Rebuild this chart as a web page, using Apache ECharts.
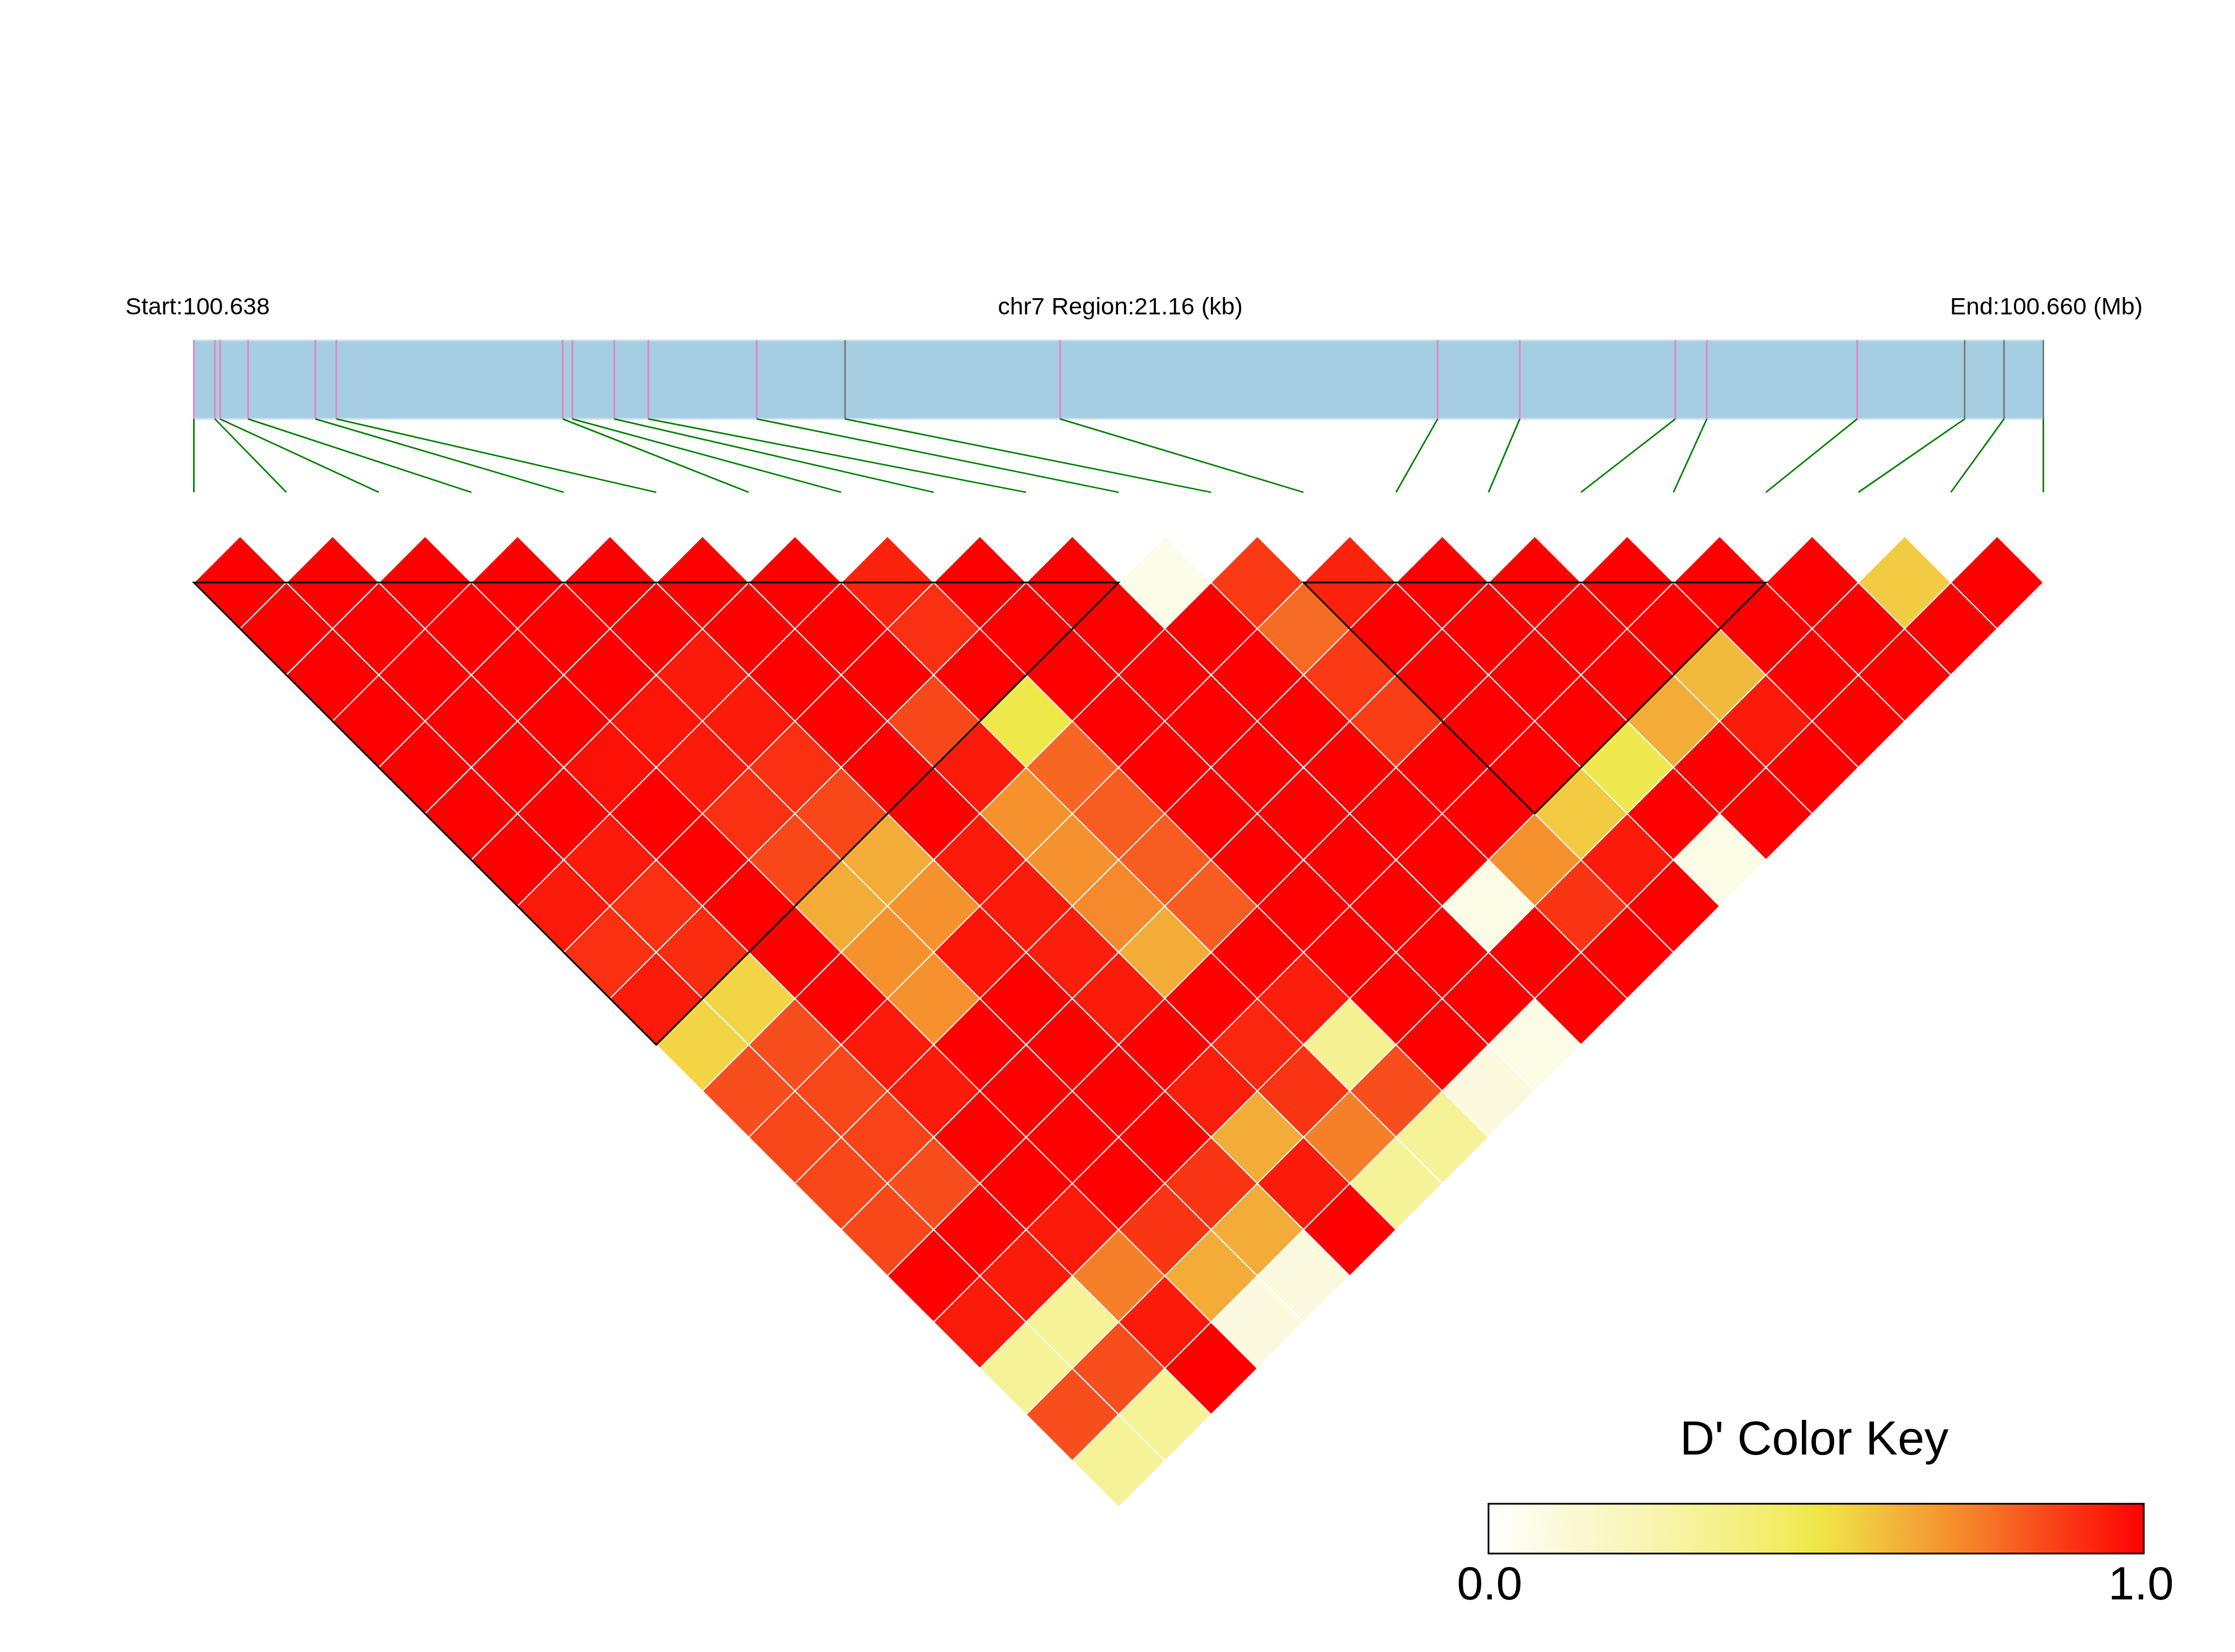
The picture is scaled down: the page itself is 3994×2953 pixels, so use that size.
<!DOCTYPE html>
<html>
<head>
<meta charset="utf-8">
<script src="https://cdn.jsdelivr.net/npm/echarts/dist/echarts.min.js"></script>
<style>
  html, body { margin: 0; padding: 0; background: #fff; }
  #chart { width: 3994px; height: 2953px; }
</style>
</head>
<body>
<div id="chart"></div>
<script>
// ---------------- data ----------------
const chrom = 'chr7';
const startMb = '100.638';
const endMb = '100.660';
const regionKb = 21.16;

// SNP positions, kb from region start
const snpKb = [0, 0.24, 0.30, 0.62, 1.39, 1.63, 4.22, 4.33, 4.81, 5.20, 6.44,
               7.45, 9.91, 14.23, 15.17, 16.95, 17.31, 19.03, 20.26, 20.71, 21.16];
// marker class of each SNP on the genomic track (a = pink tick, b = grey tick)
const snpClass = ['a','a','a','a','a','a','a','a','a','a','a',
                  'b','a','a','a','a','a','a','b','b','b'];

// D' values: row i holds pairs (i, j) for j = i+1 .. 20
const dprime = [
  [1,1,1,1,1,1,1,0.95,0.9,0.95,0.55,0.84,0.85,0.85,0.85,1,0.95,0.32,0.84,0.32],
  [1,1,1,1,1,1,0.95,0.9,0.91,0.55,0.84,0.85,0.86,0.84,1,0.95,0.32,0.84,0.32],
  [1,1,1,1,0.97,1,1,1,1,1,0.95,0.95,1,1,0.95,0.74,0.95,1],
  [1,1,1,0.96,0.95,0.9,0.85,0.64,0.7,0.7,1,1,1,1,0.89,0.64,0.1],
  [1,1,0.95,0.95,0.9,0.85,0.64,0.7,0.96,1,1,1,1,0.89,0.64,0.1],
  [1,1,1,1,1,1,0.95,0.95,0.94,0.95,1,0.94,0.64,0.95,1],
  [1,1,1,0.85,0.95,0.7,0.7,0.72,0.64,1,0.92,0.89,0.74,0.32],
  [0.93,0.9,1,0.5,0.79,0.81,0.81,0.81,1,0.94,0.33,0.84,0.32],
  [1,1,1,1,1,1,1,1,1,1,1,0.1],
  [1,1,1,1,1,1,1,1,1,1,0.08],
  [0.07,1,1,1,1,1,1,0.08,1,1],
  [0.88,0.78,0.88,0.87,1,1,0.7,0.89,1],
  [0.93,1,1,1,1,0.57,0.95,1],
  [1,1,1,1,0.49,1,0.08],
  [1,1,1,0.64,1,1],
  [1,1,0.61,0.95,1],
  [1,1,1,1],
  [1,1,1],
  [0.57,1],
  [1]
];

// LD blocks (first SNP, last SNP)
const blocks = [[0, 10], [12, 17]];

// colour key
const keyTitle = "D' Color Key";
const keyTicks = ['0.0', '1.0'];
const keyColors = ['#FFFFFF','#FDFDEF','#FBFADE','#FAF8CF','#F9F6C0','#F8F4B0','#F7F3A0',
  '#F5F18C','#F4EF78','#F1EC62','#EEE84A','#F2D444','#F2BE3E','#F3A837','#F5922E',
  '#F67C28','#F76222','#F8481A','#FA3012','#FC1A0A','#FF0000'];

// ---------------- build ----------------
const nSnp = snpKb.length;
const cells = [];
dprime.forEach((row, i) => row.forEach((v, k) => cells.push([i, i + k + 1, v])));

const FONT = '"Liberation Sans", Arial, Helvetica, sans-serif';
const barFrac = 0.518;  // share of the track grid occupied by the blue bar

const chart = echarts.init(document.getElementById('chart'), null, { renderer: 'canvas' });

const option = {
  animation: false,
  backgroundColor: '#ffffff',
  grid: [
    { left: 346.5, top: 958.6, width: 3305, height: 1735.2, show: false },
    { left: 346.5, top: 608, width: 3305, height: 272, show: false }
  ],
  xAxis: [
    { type: 'value', gridIndex: 0, min: 0, max: nSnp - 1, show: false },
    { type: 'value', gridIndex: 1, min: 0, max: regionKb, show: false }
  ],
  yAxis: [
    { type: 'value', gridIndex: 0, min: -0.5, max: (nSnp - 1) / 2, inverse: true, show: false },
    { type: 'value', gridIndex: 1, min: 0, max: 1, inverse: true, show: false }
  ],
  visualMap: {
    type: 'continuous', show: false, min: 0, max: 1, dimension: 2, seriesIndex: 0,
    inRange: { color: keyColors }
  },
  series: [
    {
      type: 'custom', name: 'cells', xAxisIndex: 0, yAxisIndex: 0,
      data: cells,
      renderItem: function (params, api) {
        const i = api.value(0), j = api.value(1);
        const cx = (i + j) / 2, cy = (j - i - 1) / 2;
        const pts = [[cx - 0.5, cy], [cx, cy - 0.5], [cx + 0.5, cy], [cx, cy + 0.5]].map(p => api.coord(p));
        return { type: 'polygon', shape: { points: pts },
                 style: { fill: api.visual('color'), stroke: '#ffffff', lineWidth: 2 } };
      }
    },
    {
      type: 'custom', name: 'blocks', xAxisIndex: 0, yAxisIndex: 0,
      data: blocks, z: 5,
      renderItem: function (params, api) {
        const a = api.value(0), b = api.value(1);
        const pts = [[a, 0], [b, 0], [(a + b) / 2, (b - a) / 2]].map(p => api.coord(p));
        return { type: 'polygon', shape: { points: pts },
                 style: { fill: 'none', stroke: '#000000', lineWidth: 3 } };
      }
    },
    {
      type: 'custom', name: 'track', xAxisIndex: 1, yAxisIndex: 1,
      data: [[0, regionKb]],
      renderItem: function (params, api) {
        const p0 = api.coord([api.value(0), 0]);
        const p1 = api.coord([api.value(1), barFrac]);
        return { type: 'rect', shape: { x: p0[0], y: p0[1], width: p1[0] - p0[0], height: p1[1] - p0[1] },
                 style: { fill: '#A6CEE3', stroke: '#D2E5F0', lineWidth: 3 } };
      }
    },
    {
      type: 'custom', name: 'ticks', xAxisIndex: 1, yAxisIndex: 1, z: 3,
      data: snpKb.map((kb, k) => [kb, k]),
      renderItem: function (params, api) {
        const kb = api.value(0), k = api.value(1);
        const p0 = api.coord([kb, 0]), p1 = api.coord([kb, barFrac]);
        return { type: 'line', shape: { x1: p0[0], y1: p0[1], x2: p1[0], y2: p1[1] },
                 style: { stroke: snpClass[k] === 'b' ? '#7A7A7A' : '#E584C0', lineWidth: 3 } };
      }
    },
    {
      type: 'custom', name: 'connectors', xAxisIndex: 1, yAxisIndex: 1, z: 3,
      data: snpKb.map((kb, k) => [kb, k]),
      renderItem: function (params, api) {
        const kb = api.value(0), k = api.value(1);
        const p0 = api.coord([kb, barFrac]);
        const p1 = api.coord([k * regionKb / (nSnp - 1), 1]);
        return { type: 'line', shape: { x1: p0[0], y1: p0[1], x2: p1[0], y2: p1[1] },
                 style: { stroke: '#008000', lineWidth: 2.8 } };
      }
    }
  ],
  graphic: [
    { type: 'text', x: 224, y: 550,
      style: { text: 'Start:' + startMb, font: '43px ' + FONT, fill: '#000', textAlign: 'left', textVerticalAlign: 'middle' } },
    { type: 'text', x: 2002, y: 550,
      style: { text: chrom + ' Region:' + regionKb.toFixed(2) + ' (kb)', font: '43px ' + FONT, fill: '#000', textAlign: 'center', textVerticalAlign: 'middle' } },
    { type: 'text', x: 3829, y: 550,
      style: { text: 'End:' + endMb + ' (Mb)', font: '43px ' + FONT, fill: '#000', textAlign: 'right', textVerticalAlign: 'middle' } },
    { type: 'rect', shape: { x: 2660, y: 2688, width: 1171, height: 89 },
      style: { fill: new echarts.graphic.LinearGradient(0, 0, 1, 0,
                 keyColors.map((c, k) => ({ offset: k / (keyColors.length - 1), color: c }))),
               stroke: '#000', lineWidth: 3 } },
    { type: 'text', x: 3242, y: 2576,
      style: { text: keyTitle, font: '86px ' + FONT, fill: '#000', textAlign: 'center', textVerticalAlign: 'middle' } },
    { type: 'text', x: 2662, y: 2836,
      style: { text: keyTicks[0], font: '84px ' + FONT, fill: '#000', textAlign: 'center', textVerticalAlign: 'middle' } },
    { type: 'text', x: 3826, y: 2836,
      style: { text: keyTicks[1], font: '84px ' + FONT, fill: '#000', textAlign: 'center', textVerticalAlign: 'middle' } }
  ]
};
chart.setOption(option);
</script>
</body>
</html>
